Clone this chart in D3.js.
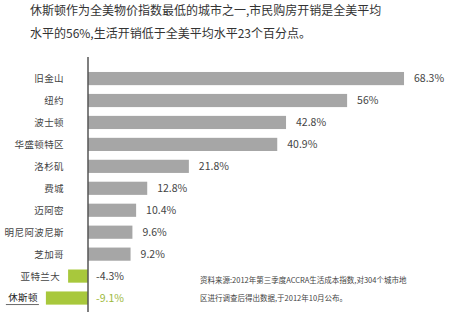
<!DOCTYPE html>
<html>
<head>
<meta charset="utf-8">
<script src="https://cdn.jsdelivr.net/npm/d3@7"></script>
<style>
  html, body { margin: 0; padding: 0; background: #fff; }
  svg { display: block; }
</style>
</head>
<body>
<div id="chart"></div>
<script>
// Cost-of-living index relative to the US average (%)
const cities = ["旧金山", "纽约", "波士顿", "华盛顿特区", "洛杉矶", "费城", "迈阿密", "明尼阿波尼斯", "芝加哥", "亚特兰大", "休斯顿"];
const values = [68.3, 56, 42.8, 40.9, 21.8, 12.8, 10.4, 9.6, 9.2, -4.3, -9.1];
const valueLabels = ["68.3%", "56%", "42.8%", "40.9%", "21.8%", "12.8%", "10.4%", "9.6%", "9.2%", "-4.3%", "-9.1%"];
const highlightCity = "休斯顿";
const titleLines = [
  "休斯顿作为全美物价指数最低的城市之一,市民购房开销是全美平均",
  "水平的56%,生活开销低于全美平均水平23个百分点。"
];
const noteLines = [
  "资料来源:2012年第三季度ACCRA生活成本指数,对304个城市地",
  "区进行调查后得出数据,于2012年10月公布。"
];

const W = 450, H = 323;
const FONT = "'Noto Sans CJK SC', 'Noto Sans', sans-serif";
const GRAY = "#a6a6a6", GREEN = "#a8c83c", TEXT = "#444";

const data = cities.map((c, i) => ({ city: c, value: values[i], label: valueLabels[i] }));

const svg = d3.select("#chart").append("svg")
  .attr("width", W).attr("height", H)
  .style("font-family", FONT);

const x = d3.scaleLinear().domain([0, 70]).range([88, 88 + 4.627 * 70]);
const y = d3.scaleBand().domain(cities).range([63.2, 313.4])
  .paddingInner(0.4).paddingOuter(0.4);

// Headline
svg.append("g").selectAll("text").data(titleLines).join("text")
  .attr("x", 30).attr("y", (d, i) => 15 + i * 23)
  .attr("font-size", 12).attr("fill", "#333")
  .text(d => d);

// Bars
svg.append("g").selectAll("rect").data(data).join("rect")
  .attr("x", d => x(Math.min(0, d.value)))
  .attr("y", d => y(d.city))
  .attr("width", d => Math.abs(x(d.value) - x(0)))
  .attr("height", y.bandwidth())
  .attr("fill", d => d.value < 0 ? GREEN : GRAY);

// Zero line
svg.append("line")
  .attr("x1", x(0)).attr("x2", x(0))
  .attr("y1", 57).attr("y2", 312)
  .attr("stroke", "#555").attr("stroke-width", 1.5);

// Value labels
svg.append("g").selectAll("text").data(data).join("text")
  .attr("x", d => d.value < 0 ? x(0) + 8 : x(d.value) + 10)
  .attr("y", d => y(d.city) + y.bandwidth() / 2)
  .attr("dy", "0.36em")
  .attr("font-size", 10.5)
  .attr("fill", d => d.city === highlightCity ? "#9bb83a" : TEXT)
  .text(d => d.label);

// Category labels
const catX = d => d.value < 0 ? Math.min(64, x(d.value) - 8) : 64;
svg.append("g").selectAll("text").data(data).join("text")
  .attr("x", catX)
  .attr("y", d => y(d.city) + y.bandwidth() / 2)
  .attr("dy", "0.36em")
  .attr("text-anchor", "end")
  .attr("font-size", 9.5)
  .attr("letter-spacing", 0.4)
  .attr("fill", d => d.city === highlightCity ? "#222" : TEXT)
  .text(d => d.city);

// Underline under the highlighted city
const hl = data.find(d => d.city === highlightCity);
svg.append("line")
  .attr("x1", catX(hl) - 32).attr("x2", catX(hl) + 1)
  .attr("y1", y(hl.city) + y.bandwidth() / 2 + 6.5)
  .attr("y2", y(hl.city) + y.bandwidth() / 2 + 6.5)
  .attr("stroke", "#444").attr("stroke-width", 0.8);

// Source note
svg.append("g").selectAll("text").data(noteLines).join("text")
  .attr("x", 200).attr("y", (d, i) => 283 + i * 18)
  .attr("font-size", 7.5).attr("fill", "#444")
  .text(d => d);
</script>
</body>
</html>
